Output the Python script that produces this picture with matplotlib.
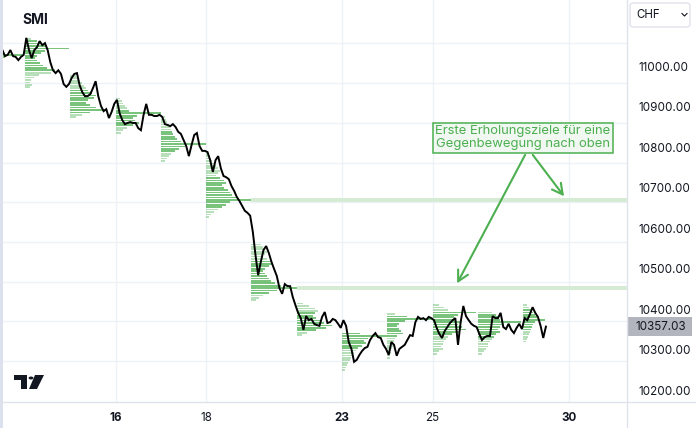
import numpy as np
import matplotlib.pyplot as plt
from matplotlib.patches import FancyBboxPatch, Polygon, Circle, Rectangle
from matplotlib.lines import Line2D
import matplotlib.transforms as mtransforms

plt.rcParams['font.family'] = ['Inter', 'DejaVu Sans']

# trading sessions (October); the 11th is only partly on screen, the 30th has no data yet
days = ['11', '12', '13', '16', '17', '18', '19', '20', '23', '24', '25', '26', '27', '30']
date_labels = ['16', '18', '23', '25', '30']
bold_labels = ['16', '23', '30']          # Mondays

# 30-minute closes, 17 bars per session (09:00-17:30)
px_11 = [11040, 11025, 11028, 11040, 11025, 11023, 11015, 11023, 11028]
px_12 = [11070, 11040, 11020, 11040, 11047, 11062, 11052, 11057, 11040, 11010, 10990, 10983,
         10990, 10981, 10956, 10949, 10956]
px_13 = [10971, 10981, 10983, 10953, 10936, 10926, 10926, 10931, 10946, 10963, 10926, 10902,
         10889, 10894, 10872, 10887, 10907]
px_16 = [10917, 10884, 10867, 10857, 10860, 10862, 10860, 10860, 10847, 10842, 10880, 10907,
         10880, 10880, 10877, 10877, 10880]
px_17 = [10875, 10857, 10855, 10852, 10857, 10850, 10838, 10833, 10818, 10803, 10778, 10805,
         10830, 10835, 10803, 10791, 10791]
px_18 = [10788, 10768, 10739, 10768, 10778, 10748, 10729, 10726, 10721, 10704, 10692, 10677,
         10667, 10655, 10643, 10638, 10631]
px_19 = [10591, 10534, 10484, 10517, 10546, 10556, 10539, 10517, 10499, 10482, 10452, 10438,
         10462, 10457, 10457, 10430, 10410]
px_20 = [10391, 10378, 10349, 10383, 10373, 10376, 10364, 10361, 10359, 10381, 10393, 10366,
         10368, 10376, 10373, 10364, 10354]
px_23 = [10373, 10359, 10319, 10302, 10270, 10275, 10287, 10297, 10304, 10307, 10324, 10334,
         10341, 10331, 10329, 10312, 10302]
px_24 = [10287, 10319, 10312, 10285, 10302, 10307, 10312, 10324, 10336, 10334, 10368, 10381,
         10376, 10378, 10373, 10381, 10378]
px_25 = [10373, 10354, 10339, 10329, 10346, 10356, 10366, 10373, 10378, 10312, 10368, 10408,
         10383, 10373, 10364, 10359, 10356]
px_26 = [10339, 10324, 10331, 10334, 10334, 10383, 10378, 10378, 10391, 10356, 10351, 10364,
         10349, 10341, 10354, 10364, 10351]
px_27 = [10378, 10373, 10388, 10405, 10391, 10381, 10359, 10329, 10357.03]
FIRST_BAR = 8                              # first visible bar of the 11th

# session volume profiles: top row price and volume per 6-point row (top -> bottom)
vp_top = [11046, 11068, 10976, 10920, 10874, 10784, 10560, 10414, 10340, 10388, 10410, 10392, 10410]
vp_11 = [14, 18, 22, 45, 26, 18, 12]
vp_12 = [6, 12, 16, 22, 45, 20, 16, 12, 10, 12, 15, 18, 22, 30, 26, 14, 9, 6, 5, 7, 5]
vp_13 = [6, 9, 10, 12, 14, 16, 18, 22, 26, 24, 18, 16, 20, 26, 36, 20, 12, 6]
vp_16 = [4, 6, 8, 10, 12, 14, 46, 22, 18, 20, 24, 18, 12, 8, 5]
vp_17 = [4, 5, 6, 8, 9, 10, 11, 12, 14, 16, 20, 46, 24, 18, 14, 10, 8, 6, 4]
vp_18 = [3, 4, 5, 6, 8, 10, 12, 14, 12, 10, 14, 18, 20, 16, 18, 22, 24, 26, 30, 46, 24, 20, 16,
         12, 8, 5, 3]
vp_19 = [10, 12, 14, 16, 14, 12, 16, 20, 22, 18, 14, 12, 14, 16, 18, 20, 24, 30, 46, 26, 18, 12, 8, 5]
vp_20 = [6, 12, 18, 22, 18, 16, 20, 26, 28, 36, 30, 20, 10, 5]
vp_23 = [18, 46, 26, 22, 24, 20, 16, 14, 12, 10, 9, 8, 6, 5, 4, 3]
vp_24 = [8, 20, 46, 18, 12, 10, 12, 14, 16, 10, 8, 7, 6, 6, 5, 4, 4, 3, 3]
vp_25 = [6, 12, 16, 44, 26, 22, 24, 28, 26, 30, 34, 28, 20, 16, 14, 12, 10, 8, 10, 6, 4]
vp_26 = [14, 18, 20, 22, 44, 26, 22, 20, 22, 18, 16, 14, 12, 10, 10, 8, 6, 4]
vp_27 = [4, 6, 8, 10, 12, 14, 22, 12, 10, 9, 8, 7, 6, 5, 4, 3]
naked_poc_days = ['18', '19']              # POCs not revisited -> extended right

last_price = 10357.03
price_ticks = list(range(10200, 11001, 100))
grid_levels = [10273, 10371, 10468, 10567, 10665, 10762, 10859, 10958, 11057]

sessions = [px_11, px_12, px_13, px_16, px_17, px_18, px_19, px_20, px_23, px_24, px_25, px_26, px_27]
profiles = [vp_11, vp_12, vp_13, vp_16, vp_17, vp_18, vp_19, vp_20, vp_23, vp_24, vp_25, vp_26, vp_27]

BARS_PER_DAY = 17
ROW = 6
VP_FULL = 46.0                             # volume that fills one session width
GREEN = '#4caf50'
TEXT = '#131722'
GRID = '#eef1f6'
SEP = '#e0e3eb'
W, H = 696, 428
XMIN, XMAX = 0.448, 14.29
YMIN, YMAX = 10170.9, 11163.5


def value_area(vols, share=0.7):
    poc = int(np.argmax(vols))
    lo = hi = poc
    total = vols[poc]
    while total < share * vols.sum():
        up = vols[lo - 1] if lo > 0 else -1
        dn = vols[hi + 1] if hi < len(vols) - 1 else -1
        if up >= dn:
            lo -= 1
            total += up
        else:
            hi += 1
            total += dn
    mask = np.zeros(len(vols), bool)
    mask[lo:hi + 1] = True
    return mask


def pix(x, y):
    return (x / W, 1 - y / H)


fig = plt.figure(figsize=(W / 100, H / 100), dpi=100)
fig.patch.set_facecolor('white')
ax = fig.add_axes([0, 26 / H, 627 / W, 402 / H])
ax.set_xlim(XMIN, XMAX)
ax.set_ylim(YMIN, YMAX)
for s in ax.spines.values():
    s.set_visible(False)

# grid
tick_pos = [days.index(d) for d in date_labels]
for x in tick_pos:
    ax.axvline(x, color=GRID, lw=1, zorder=0)
for y in grid_levels:
    ax.axhline(y, color=GRID, lw=1, zorder=0)

# volume profiles
for d, (top, vols) in enumerate(zip(vp_top, profiles)):
    vols = np.asarray(vols, float)
    prices = top - ROW * np.arange(len(vols))
    va = value_area(vols)
    cols = [(0.298, 0.686, 0.314, 0.75 if inva else 0.4) for inva in va]
    ax.barh(prices, vols / VP_FULL, height=ROW * 0.72, left=d, color=cols,
            linewidth=0, zorder=2)

# naked POC extensions
for lbl in naked_poc_days:
    d = days.index(lbl)
    vols = np.asarray(profiles[d], float)
    poc = vp_top[d] - ROW * np.argmax(vols)
    x0 = d + vols.max() / VP_FULL
    ax.fill_between([x0, XMAX], poc - 4.5, poc + 4.5, color='#d6ebd4', lw=0, zorder=1)

# price line
t, p = [], []
for d, closes in enumerate(sessions):
    start = FIRST_BAR if d == 0 else 0
    j = np.arange(start, start + len(closes))
    t.extend(d + (j + 0.5) / BARS_PER_DAY)
    p.extend(closes)
ax.plot(t, p, color='#000000', lw=1.4, zorder=4, solid_joinstyle='miter')

# annotation
ax.text(11.99, 10823, 'Erste Erholungsziele für eine\nGegenbewegung nach oben',
        ha='center', va='center', fontsize=9.4, color=GREEN, linespacing=1.12, zorder=6,
        bbox=dict(boxstyle='square,pad=0.2', fc='#f1f8f1', ec=GREEN, lw=1.1))
arrow = dict(arrowstyle='->,head_length=0.75,head_width=0.4', color=GREEN, lw=1.5,
             shrinkA=0, shrinkB=0)
ax.annotate('', xy=(10.54, 10464), xytext=(12.04, 10781), arrowprops=arrow, zorder=5)
ax.annotate('', xy=(12.90, 10679), xytext=(12.21, 10781), arrowprops=arrow, zorder=5)

# axes
ax.yaxis.tick_right()
ax.set_yticks(price_ticks)
ax.set_yticklabels([f'{v:.2f}' for v in price_ticks])
ax.tick_params(axis='y', length=0, pad=8, labelsize=8.4, labelcolor=TEXT)
ax.set_xticks(tick_pos)
ax.set_xticklabels(date_labels)
ax.tick_params(axis='x', length=0, pad=7, labelsize=8.4, labelcolor=TEXT)
for lab in ax.get_xticklabels():
    lab.set_fontweight('bold' if lab.get_text() in bold_labels else 'normal')

# last price tag
tr = mtransforms.blended_transform_factory(ax.transAxes, ax.transData)
ax.add_patch(Rectangle((1.0, last_price - 23.5), 65 / 627, 47, transform=tr,
                       fc='#b2b5be', ec='none', clip_on=False, zorder=5))
ax.text(1.0 + 8 / 627, last_price, f'{last_price:.2f}', transform=tr, ha='left',
        va='center', fontsize=8.4, color=TEXT, clip_on=False, zorder=6)

# separators and frame bits
fig.add_artist(Line2D([627 / W, 627 / W], [0, 1], color=SEP, lw=1))
fig.add_artist(Line2D([0, 1], [1 - 402 / H, 1 - 402 / H], color=SEP, lw=1))
fig.add_artist(Rectangle((0, 0), 2.5 / W, 1, transform=fig.transFigure, fc='#dde1ee', ec='none'))

# title
fig.text(*pix(22, 20), 'SMI', fontsize=10, fontweight='bold', color=TEXT, va='center')

# currency box
x0, y0 = pix(630, 27)
fig.add_artist(FancyBboxPatch((x0, y0), 60 / W, 24 / H, transform=fig.transFigure,
                              boxstyle='round,pad=0,rounding_size=0.006',
                              fc='white', ec=SEP, lw=1))
fig.text(*pix(636, 15), 'CHF', fontsize=8.3, color=TEXT, va='center')
cx, cy = zip(pix(682, 13.5), pix(684.5, 16), pix(687, 13.5))
fig.add_artist(Line2D(cx, cy, color=TEXT, lw=0.8))

# TradingView logo
logo = dict(transform=fig.transFigure, fc=TEXT, ec='none')
fig.add_artist(Polygon([pix(14, 375), pix(27, 375), pix(27, 389), pix(21, 389),
                        pix(21, 380), pix(14, 380)], **logo))
fig.add_artist(Circle(pix(31, 378), 2.4 / W, **logo))
fig.add_artist(Polygon([pix(35, 375), pix(44, 375), pix(37, 389), pix(29, 389)], **logo))

fig.savefig('out.png', dpi=100)
